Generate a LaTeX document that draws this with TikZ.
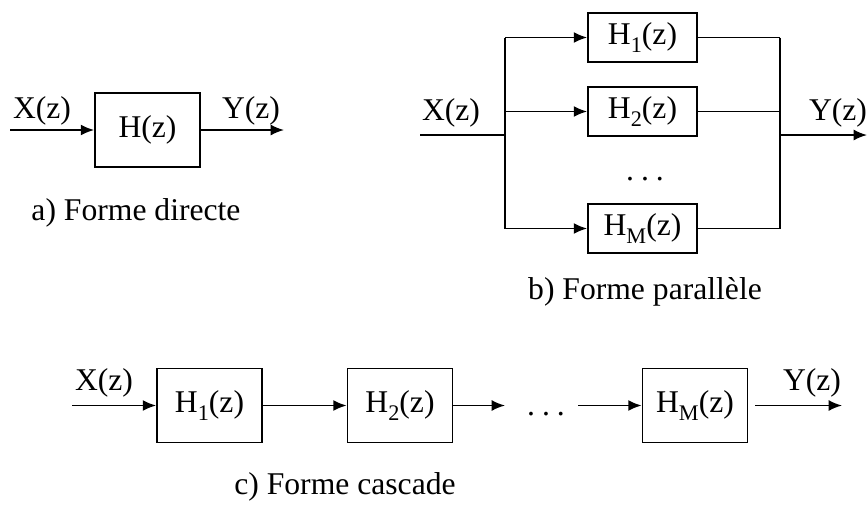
\documentclass[tikz,border=0pt]{standalone}
\usepackage{fontspec}
\setmainfont{Liberation Serif}
\usepackage{tikz}
\usetikzlibrary{arrows.meta}
\newcommand\indice[1]{\raisebox{-0.5ex}{\fontsize{19}{20}\selectfont #1}}

\begin{document}
\begin{tikzpicture}[x=0.3mm, y=-0.3mm,
    bloc/.style={draw, line width=1.5pt, minimum width=3.15cm, minimum height=2.22cm, inner sep=0pt, font=\fontsize{27}{30}\selectfont},
    blocpar/.style={bloc, minimum width=3.27cm, minimum height=1.47cm},
    sig/.style={font=\fontsize{27}{30}\selectfont, inner sep=0pt},
    fil/.style={line width=1.5pt},
    fleche/.style={fil, -{Latex[length=4mm, width=3.3mm]}}]
  \useasboundingbox (0,0) rectangle (867,504);

  % a) forme directe
  \node[bloc] (H) at (147.5,130) {H(z)};
  \coordinate (xa) at (10,130);
  \coordinate (ya) at (284,130);
  \draw[fleche] (xa) -- (H);
  \draw[fleche] (H) -- (ya);
  \node[sig] (Xa) at (42,111) {X(z)};
  \node[sig] (Ya) at (251,111) {Y(z)};
  \node[sig] (capa) at (136,213) {a) Forme directe};

  % b) forme parallele
  \node[blocpar] (P1) at (642.5,37.5) {H\indice{1}(z)};
  \node[blocpar] (P2) at (642.5,111.5) {H\indice{2}(z)};
  \node[blocpar] (PM) at (642.5,228.5) {H\indice{M}(z)};
  \node[sig, anchor=base] (dotsb) at (645,180) {.\hspace{6pt}.\hspace{6pt}.};
  \coordinate (xb) at (420,135);
  \coordinate (sb) at (505,135);
  \coordinate (cb) at (780,135);
  \coordinate (yb) at (867,135);
  \draw[fil] (xb) -- (sb);
  \draw[fil] (sb |- P1) -- (sb |- PM);
  \foreach \b in {P1,P2,PM} {
    \draw[fleche] (sb |- \b) -- (\b);
    \draw[fil] (\b) -- (cb |- \b);
  }
  \draw[fil] (cb |- P1) -- (cb |- PM);
  \draw[fleche] (cb) -- (yb);
  \node[sig] (Xb) at (451,113) {X(z)};
  \node[sig] (Yb) at (838,113) {Y(z)};
  \node[sig] (capb) at (645,292) {b) Forme parallèle};

  % c) forme cascade
  \node[bloc] (C1) at (209.5,405.5) {H\indice{1}(z)};
  \node[bloc] (C2) at (400,405.5) {H\indice{2}(z)};
  \node[bloc] (CM) at (695,405.5) {H\indice{M}(z)};
  \node[sig, anchor=base] (dotsc) at (546,415) {.\hspace{6pt}.\hspace{6pt}.};
  \coordinate (xc) at (72,405.5);
  \coordinate (yc) at (842,405.5);
  \coordinate (d1) at (505,405.5);
  \coordinate (d2) at (578,405.5);
  \draw[fleche] (xc) -- (C1);
  \draw[fleche] (C1) -- (C2);
  \draw[fleche] (C2) -- (d1);
  \draw[fleche] (d2) -- (CM);
  \draw[fleche] ([xshift=2mm]CM.east) -- (yc);
  \node[sig] (Xc) at (104,383) {X(z)};
  \node[sig] (Yc) at (812,383) {Y(z)};
  \node[sig] (capc) at (345,487) {c) Forme cascade};
\end{tikzpicture}
\end{document}
